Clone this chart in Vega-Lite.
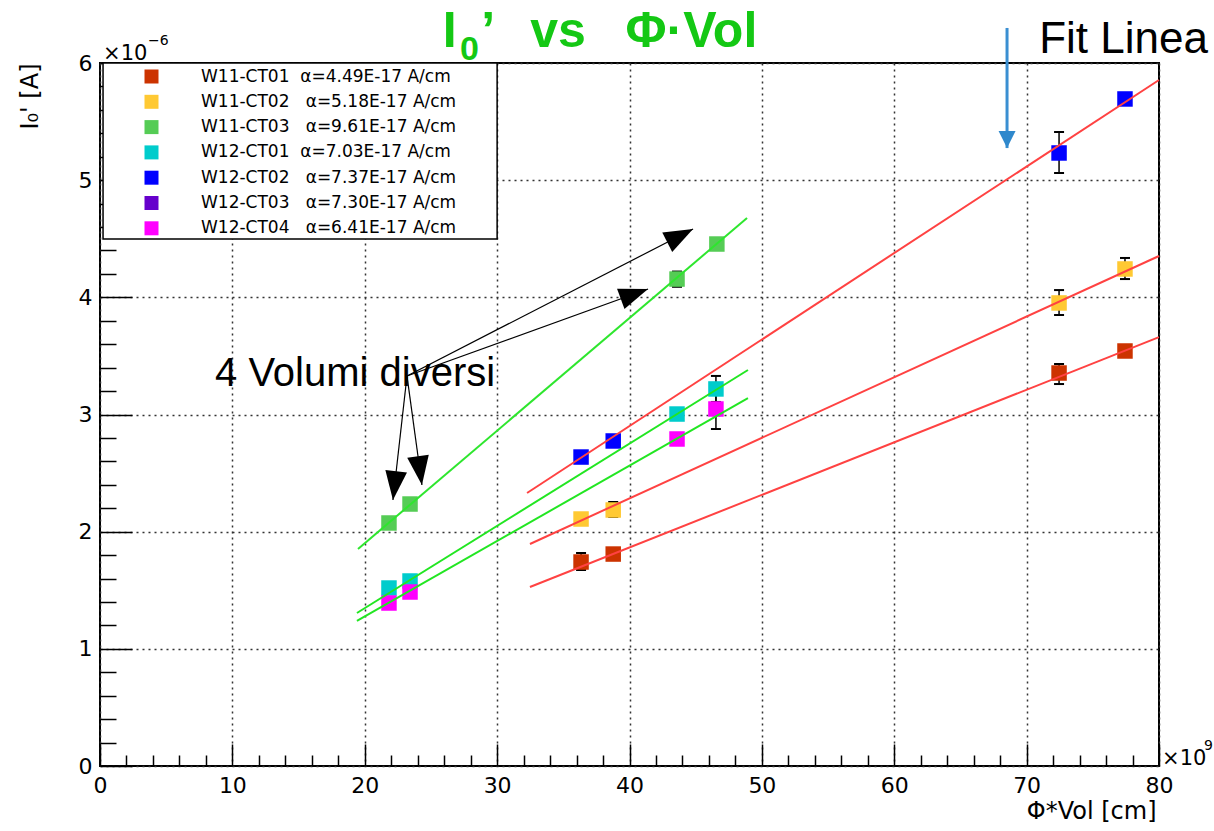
{
  "$schema": "https://vega.github.io/schema/vega-lite/v6.json",
  "width": 1059,
  "height": 703,
  "autosize": {"type": "none"},
  "padding": {"left": 100, "top": 63, "right": 55, "bottom": 65},
  "background": "white",
  "config": {
    "font": "DejaVu Sans",
    "view": {"stroke": "#000", "strokeWidth": 2},
    "axis": {"labelFont": "DejaVu Sans", "titleFont": "DejaVu Sans", "labelColor": "#000", "titleColor": "#000", "tickColor": "#000"}
  },
  "datasets": {
    "points": [
      {"series": "W11-CT01", "x": 36.34, "y": 1.741}, {"series": "W11-CT01", "x": 38.77, "y": 1.809}, {"series": "W11-CT01", "x": 72.45, "y": 3.354}, {"series": "W11-CT01", "x": 77.43, "y": 3.542},
      {"series": "W11-CT02", "x": 36.34, "y": 2.108}, {"series": "W11-CT02", "x": 38.77, "y": 2.185}, {"series": "W11-CT02", "x": 72.45, "y": 3.952}, {"series": "W11-CT02", "x": 77.43, "y": 4.242},
      {"series": "W11-CT03", "x": 21.83, "y": 2.074}, {"series": "W11-CT03", "x": 23.42, "y": 2.236}, {"series": "W11-CT03", "x": 43.59, "y": 4.156}, {"series": "W11-CT03", "x": 46.6, "y": 4.455},
      {"series": "W12-CT01", "x": 21.83, "y": 1.519}, {"series": "W12-CT01", "x": 23.42, "y": 1.579}, {"series": "W12-CT01", "x": 43.59, "y": 3.004}, {"series": "W12-CT01", "x": 46.53, "y": 3.218},
      {"series": "W12-CT02", "x": 36.34, "y": 2.637}, {"series": "W12-CT02", "x": 38.77, "y": 2.774}, {"series": "W12-CT02", "x": 72.45, "y": 5.232}, {"series": "W12-CT02", "x": 77.43, "y": 5.693},
      {"series": "W12-CT04", "x": 21.83, "y": 1.391}, {"series": "W12-CT04", "x": 23.42, "y": 1.485}, {"series": "W12-CT04", "x": 43.59, "y": 2.791}, {"series": "W12-CT04", "x": 46.53, "y": 3.047}
    ],
    "errors": [
      {"series": "W11-CT01", "x": 36.34, "ylo": 1.673, "yhi": 1.818},
      {"series": "W11-CT01", "x": 72.45, "ylo": 3.26, "yhi": 3.431},
      {"series": "W11-CT02", "x": 38.77, "ylo": 2.125, "yhi": 2.253},
      {"series": "W11-CT02", "x": 72.45, "ylo": 3.849, "yhi": 4.062},
      {"series": "W11-CT02", "x": 77.43, "ylo": 4.156, "yhi": 4.336},
      {"series": "W11-CT03", "x": 43.59, "ylo": 4.09, "yhi": 4.22},
      {"series": "W12-CT01", "x": 21.83, "ylo": 1.476, "yhi": 1.562},
      {"series": "W12-CT01", "x": 46.53, "ylo": 3.107, "yhi": 3.329},
      {"series": "W12-CT04", "x": 46.53, "ylo": 2.876, "yhi": 3.218},
      {"series": "W12-CT02", "x": 72.45, "ylo": 5.061, "yhi": 5.411}
    ],
    "fits": [
      {"series": "W11-CT01", "x": 32.48, "y": 1.528}, {"series": "W11-CT01", "x": 80, "y": 3.66},
      {"series": "W11-CT02", "x": 32.48, "y": 1.895}, {"series": "W11-CT02", "x": 80, "y": 4.353},
      {"series": "W12-CT02", "x": 32.26, "y": 2.33}, {"series": "W12-CT02", "x": 80, "y": 5.855},
      {"series": "W11-CT03", "x": 19.49, "y": 1.852}, {"series": "W11-CT03", "x": 48.88, "y": 4.677},
      {"series": "W12-CT01", "x": 19.41, "y": 1.306}, {"series": "W12-CT01", "x": 48.95, "y": 3.38},
      {"series": "W12-CT04", "x": 19.41, "y": 1.238}, {"series": "W12-CT04", "x": 48.95, "y": 3.14}
    ],
    "arrows": [
      {"arrow": "a1", "x": 23.19, "y": 3.329}, {"arrow": "a1", "x": 44.8, "y": 4.583},
      {"arrow": "a2", "x": 23.19, "y": 3.329}, {"arrow": "a2", "x": 41.4, "y": 4.071},
      {"arrow": "a3", "x": 23.19, "y": 3.329}, {"arrow": "a3", "x": 22.13, "y": 2.27},
      {"arrow": "a4", "x": 23.19, "y": 3.329}, {"arrow": "a4", "x": 24.32, "y": 2.398}
    ],
    "blue": [
      {"arrow": "fit", "x": 68.52, "y": 6.299}, {"arrow": "fit", "x": 68.52, "y": 5.274}
    ],
    "heads": [
      {"arrow": "a1", "x": 44.8, "y": 4.583},
      {"arrow": "a2", "x": 41.4, "y": 4.071},
      {"arrow": "a3", "x": 22.13, "y": 2.27},
      {"arrow": "a4", "x": 24.32, "y": 2.398},
      {"arrow": "fit", "x": 68.52, "y": 5.274}
    ]
  },
  "layer": [
    {
      "data": {"values": [{}]},
      "mark": {"type": "rect", "fill": "#fff", "stroke": "#000", "strokeWidth": 1.5},
      "encoding": {
        "x": {"datum": 0.23, "type": "quantitative", "scale": {"domain": [0, 80], "nice": false, "zero": false}, "axis": null},
        "x2": {"datum": 30.0},
        "y": {"datum": 6, "type": "quantitative", "scale": {"domain": [0, 6], "nice": false}, "axis": null},
        "y2": {"datum": 4.497}
      }
    },
    {
      "data": {"name": "errors"},
      "mark": {"type": "rule", "color": "#000", "strokeWidth": 1.5},
      "encoding": {
        "x": {"field": "x", "type": "quantitative", "scale": {"domain": [0, 80], "nice": false, "zero": false}, "axis": null},
        "y": {"field": "ylo", "type": "quantitative", "scale": {"domain": [0, 6], "nice": false}, "axis": null},
        "y2": {"field": "yhi"}
      }
    },
    {
      "data": {"name": "errors"},
      "mark": {"type": "tick", "orient": "horizontal", "color": "#000", "size": 10, "thickness": 2, "opacity": 1},
      "encoding": {
        "x": {"field": "x", "type": "quantitative", "scale": {"domain": [0, 80], "nice": false, "zero": false}, "axis": null},
        "y": {"field": "ylo", "type": "quantitative", "scale": {"domain": [0, 6], "nice": false}, "axis": null}
      }
    },
    {
      "data": {"name": "errors"},
      "mark": {"type": "tick", "orient": "horizontal", "color": "#000", "size": 10, "thickness": 2, "opacity": 1},
      "encoding": {
        "x": {"field": "x", "type": "quantitative", "scale": {"domain": [0, 80], "nice": false, "zero": false}, "axis": null},
        "y": {"field": "yhi", "type": "quantitative", "scale": {"domain": [0, 6], "nice": false}, "axis": null}
      }
    },
    {
      "data": {"name": "points"},
      "mark": {"type": "point", "shape": "square", "filled": true, "size": 240, "opacity": 1, "strokeWidth": 0},
      "encoding": {
        "x": {
          "field": "x", "type": "quantitative",
          "scale": {"domain": [0, 80], "nice": false, "zero": false},
          "axis": {
            "orient": "bottom", "values": [0, 10, 20, 30, 40, 50, 60, 70, 80], "format": "d",
            "tickSize": -22, "tickWidth": 1.5, "labelPadding": 31, "labelFontSize": 22, "labelFlush": false, "labelOverlap": false,
            "grid": true, "gridDash": [2, 4], "gridColor": "#333", "gridWidth": 1.5, "domain": false,
            "title": "Φ*Vol [cm]", "titleFontSize": 24, "titleFontWeight": "normal", "titleAlign": "right", "titleBaseline": "alphabetic", "titleX": 1056, "titleY": 52
          }
        },
        "y": {
          "field": "y", "type": "quantitative",
          "scale": {"domain": [0, 6], "nice": false},
          "axis": {
            "orient": "left", "values": [0, 1, 2, 3, 4, 5, 6], "format": "d",
            "tickSize": -32, "tickWidth": 1.5, "labelPadding": 40, "labelFontSize": 22, "labelFlush": false, "labelOverlap": false,
            "grid": true, "gridDash": [2, 4], "gridColor": "#333", "gridWidth": 1.5, "domain": false,
            "title": "I₀' [A]", "titleFontSize": 24, "titleFontWeight": "normal", "titleAngle": -90, "titleAlign": "right", "titleBaseline": "alphabetic", "titleX": -63, "titleY": 0
          }
        },
        "color": {
          "field": "series", "type": "nominal",
          "scale": {
            "domain": ["W11-CT01", "W11-CT02", "W11-CT03", "W12-CT01", "W12-CT02", "W12-CT03", "W12-CT04"],
            "range": ["#cc3300", "#ffc933", "#55cc55", "#00cccc", "#0000ff", "#6600cc", "#ff00ff"]
          },
          "legend": {
            "orient": "none", "legendX": 3, "legendY": 1, "title": null,
            "symbolType": "square", "symbolSize": 196, "symbolStrokeWidth": 0, "symbolOpacity": 1,
            "symbolOffset": 36, "labelOffset": 41, "labelFontSize": 17, "labelFont": "DejaVu Sans", "labelColor": "#000", "labelLimit": 500,
            "rowPadding": 7.3, "padding": 4,
            "labelExpr": "{'W11-CT01':'W11-CT01\u00a0\u00a0α=4.49E-17 A/cm','W11-CT02':'W11-CT02\u00a0\u00a0\u00a0α=5.18E-17 A/cm','W11-CT03':'W11-CT03\u00a0\u00a0\u00a0α=9.61E-17 A/cm','W12-CT01':'W12-CT01\u00a0\u00a0α=7.03E-17 A/cm','W12-CT02':'W12-CT02\u00a0\u00a0\u00a0α=7.37E-17 A/cm','W12-CT03':'W12-CT03\u00a0\u00a0\u00a0α=7.30E-17 A/cm','W12-CT04':'W12-CT04\u00a0\u00a0\u00a0α=6.41E-17 A/cm'}[datum.label]"
          }
        }
      }
    },
    {
      "data": {"name": "fits"},
      "mark": {"type": "line"},
      "encoding": {
        "x": {
          "field": "x", "type": "quantitative",
          "scale": {"domain": [0, 80], "nice": false, "zero": false},
          "axis": {"orient": "bottom", "values": [2, 4, 6, 8, 12, 14, 16, 18, 22, 24, 26, 28, 32, 34, 36, 38, 42, 44, 46, 48, 52, 54, 56, 58, 62, 64, 66, 68, 72, 74, 76, 78], "tickSize": -11, "tickWidth": 1.5, "labels": false, "grid": false, "domain": false, "title": null}
        },
        "y": {
          "field": "y", "type": "quantitative",
          "scale": {"domain": [0, 6], "nice": false},
          "axis": {"orient": "left", "values": [0.2, 0.4, 0.6, 0.8, 1.2, 1.4, 1.6, 1.8, 2.2, 2.4, 2.6, 2.8, 3.2, 3.4, 3.6, 3.8, 4.2, 4.4, 4.6, 4.8, 5.2, 5.4, 5.6, 5.8], "tickSize": -16, "tickWidth": 1.5, "labels": false, "grid": false, "domain": false, "title": null}
        },
        "stroke": {
          "field": "series", "type": "nominal",
          "scale": {"domain": ["W11-CT01", "W11-CT02", "W12-CT02", "W11-CT03", "W12-CT01", "W12-CT04"], "range": ["#ff4242", "#ff4242", "#ff4242", "#2ee62e", "#22e622", "#22e622"]},
          "legend": null
        },
        "strokeWidth": {
          "field": "series", "type": "nominal",
          "scale": {"domain": ["W11-CT01", "W11-CT02", "W12-CT02", "W11-CT03", "W12-CT01", "W12-CT04"], "range": [2, 2, 2, 2, 2.6, 2.6]},
          "legend": null
        }
      }
    },
    {
      "data": {"name": "arrows"},
      "mark": {"type": "line", "color": "#000", "strokeWidth": 1.2},
      "encoding": {
        "x": {"field": "x", "type": "quantitative", "scale": {"domain": [0, 80], "nice": false, "zero": false}, "axis": null},
        "y": {"field": "y", "type": "quantitative", "scale": {"domain": [0, 6], "nice": false}, "axis": null},
        "detail": {"field": "arrow"}
      }
    },
    {
      "data": {"name": "blue"},
      "mark": {"type": "line", "color": "#3a8fd2", "strokeWidth": 3},
      "encoding": {
        "x": {"field": "x", "type": "quantitative", "scale": {"domain": [0, 80], "nice": false, "zero": false}, "axis": null},
        "y": {"field": "y", "type": "quantitative", "scale": {"domain": [0, 6], "nice": false}, "axis": null}
      }
    },
    {
      "data": {"name": "heads"},
      "transform": [{"filter": "datum.arrow == 'a1'"}],
      "mark": {"type": "point", "shape": "M0,0L0.75,2L-0.75,2Z", "size": 841, "angle": 62.8, "filled": true, "color": "#000", "opacity": 1, "strokeWidth": 0},
      "encoding": {
        "x": {"field": "x", "type": "quantitative", "scale": {"domain": [0, 80], "nice": false, "zero": false}, "axis": null},
        "y": {"field": "y", "type": "quantitative", "scale": {"domain": [0, 6], "nice": false}, "axis": null}
      }
    },
    {
      "data": {"name": "heads"},
      "transform": [{"filter": "datum.arrow == 'a2'"}],
      "mark": {"type": "point", "shape": "M0,0L0.75,2L-0.75,2Z", "size": 841, "angle": 70.1, "filled": true, "color": "#000", "opacity": 1, "strokeWidth": 0},
      "encoding": {
        "x": {"field": "x", "type": "quantitative", "scale": {"domain": [0, 80], "nice": false, "zero": false}, "axis": null},
        "y": {"field": "y", "type": "quantitative", "scale": {"domain": [0, 6], "nice": false}, "axis": null}
      }
    },
    {
      "data": {"name": "heads"},
      "transform": [{"filter": "datum.arrow == 'a3'"}],
      "mark": {"type": "point", "shape": "M0,0L0.75,2L-0.75,2Z", "size": 841, "angle": 186.4, "filled": true, "color": "#000", "opacity": 1, "strokeWidth": 0},
      "encoding": {
        "x": {"field": "x", "type": "quantitative", "scale": {"domain": [0, 80], "nice": false, "zero": false}, "axis": null},
        "y": {"field": "y", "type": "quantitative", "scale": {"domain": [0, 6], "nice": false}, "axis": null}
      }
    },
    {
      "data": {"name": "heads"},
      "transform": [{"filter": "datum.arrow == 'a4'"}],
      "mark": {"type": "point", "shape": "M0,0L0.75,2L-0.75,2Z", "size": 841, "angle": 172.2, "filled": true, "color": "#000", "opacity": 1, "strokeWidth": 0},
      "encoding": {
        "x": {"field": "x", "type": "quantitative", "scale": {"domain": [0, 80], "nice": false, "zero": false}, "axis": null},
        "y": {"field": "y", "type": "quantitative", "scale": {"domain": [0, 6], "nice": false}, "axis": null}
      }
    },
    {
      "data": {"name": "heads"},
      "transform": [{"filter": "datum.arrow == 'fit'"}],
      "mark": {"type": "point", "shape": "M0,0L1,2L-1,2Z", "size": 289, "angle": 180, "filled": true, "color": "#2f88cc", "opacity": 1, "strokeWidth": 0},
      "encoding": {
        "x": {"field": "x", "type": "quantitative", "scale": {"domain": [0, 80], "nice": false, "zero": false}, "axis": null},
        "y": {"field": "y", "type": "quantitative", "scale": {"domain": [0, 6], "nice": false}, "axis": null}
      }
    },
    {
      "data": {"values": [{}]},
      "mark": {"type": "text", "text": "4 Volumi diversi", "font": "Liberation Sans", "fontSize": 40, "align": "left", "baseline": "alphabetic", "color": "#000"},
      "encoding": {
        "x": {"datum": 8.69, "type": "quantitative", "scale": {"domain": [0, 80], "nice": false, "zero": false}, "axis": null},
        "y": {"datum": 3.243, "type": "quantitative", "scale": {"domain": [0, 6], "nice": false}, "axis": null}
      }
    },
    {
      "data": {"values": [{}]},
      "mark": {"type": "text", "text": "Fit Linea", "font": "Liberation Sans", "fontSize": 44, "align": "left", "baseline": "alphabetic", "color": "#000"},
      "encoding": {
        "x": {"datum": 70.95, "type": "quantitative", "scale": {"domain": [0, 80], "nice": false, "zero": false}, "axis": null},
        "y": {"datum": 6.085, "type": "quantitative", "scale": {"domain": [0, 6], "nice": false}, "axis": null}
      }
    },
    {
      "data": {"values": [{}]},
      "mark": {"type": "text", "text": "I", "font": "Liberation Sans", "fontWeight": "bold", "fontSize": 50, "align": "left", "baseline": "alphabetic", "color": "#14c814"},
      "encoding": {
        "x": {"datum": 25.9, "type": "quantitative", "scale": {"domain": [0, 80], "nice": false, "zero": false}, "axis": null},
        "y": {"datum": 6.136, "type": "quantitative", "scale": {"domain": [0, 6], "nice": false}, "axis": null}
      }
    },
    {
      "data": {"values": [{}]},
      "mark": {"type": "text", "text": "0", "font": "Liberation Sans", "fontWeight": "bold", "fontSize": 34, "align": "left", "baseline": "alphabetic", "color": "#14c814"},
      "encoding": {
        "x": {"datum": 27.2, "type": "quantitative", "scale": {"domain": [0, 80], "nice": false, "zero": false}, "axis": null},
        "y": {"datum": 6.025, "type": "quantitative", "scale": {"domain": [0, 6], "nice": false}, "axis": null}
      }
    },
    {
      "data": {"values": [{}]},
      "mark": {"type": "text", "text": "’", "font": "Liberation Sans", "fontWeight": "bold", "fontSize": 50, "align": "left", "baseline": "alphabetic", "color": "#14c814"},
      "encoding": {
        "x": {"datum": 28.8, "type": "quantitative", "scale": {"domain": [0, 80], "nice": false, "zero": false}, "axis": null},
        "y": {"datum": 6.136, "type": "quantitative", "scale": {"domain": [0, 6], "nice": false}, "axis": null}
      }
    },
    {
      "data": {"values": [{}]},
      "mark": {"type": "text", "text": "vs", "font": "Liberation Sans", "fontWeight": "bold", "fontSize": 50, "align": "left", "baseline": "alphabetic", "color": "#14c814"},
      "encoding": {
        "x": {"datum": 32.5, "type": "quantitative", "scale": {"domain": [0, 80], "nice": false, "zero": false}, "axis": null},
        "y": {"datum": 6.136, "type": "quantitative", "scale": {"domain": [0, 6], "nice": false}, "axis": null}
      }
    },
    {
      "data": {"values": [{}]},
      "mark": {"type": "text", "text": "Φ·Vol", "font": "Liberation Sans", "fontWeight": "bold", "fontSize": 50, "align": "left", "baseline": "alphabetic", "color": "#14c814"},
      "encoding": {
        "x": {"datum": 39.7, "type": "quantitative", "scale": {"domain": [0, 80], "nice": false, "zero": false}, "axis": null},
        "y": {"datum": 6.136, "type": "quantitative", "scale": {"domain": [0, 6], "nice": false}, "axis": null}
      }
    },
    {
      "data": {"values": [{}]},
      "mark": {"type": "text", "text": "×10", "font": "DejaVu Sans", "fontSize": 21, "align": "left", "baseline": "alphabetic", "color": "#000"},
      "encoding": {
        "x": {"datum": 0.23, "type": "quantitative", "scale": {"domain": [0, 80], "nice": false, "zero": false}, "axis": null},
        "y": {"datum": 6.025, "type": "quantitative", "scale": {"domain": [0, 6], "nice": false}, "axis": null}
      }
    },
    {
      "data": {"values": [{}]},
      "mark": {"type": "text", "text": "−6", "font": "DejaVu Sans", "fontSize": 14, "align": "left", "baseline": "alphabetic", "color": "#000"},
      "encoding": {
        "x": {"datum": 3.63, "type": "quantitative", "scale": {"domain": [0, 80], "nice": false, "zero": false}, "axis": null},
        "y": {"datum": 6.153, "type": "quantitative", "scale": {"domain": [0, 6], "nice": false}, "axis": null}
      }
    },
    {
      "data": {"values": [{}]},
      "mark": {"type": "text", "text": "×10", "font": "DejaVu Sans", "fontSize": 21, "align": "left", "baseline": "alphabetic", "color": "#000"},
      "encoding": {
        "x": {"datum": 80.23, "type": "quantitative", "scale": {"domain": [0, 80], "nice": false, "zero": false}, "axis": null},
        "y": {"datum": 0.0085, "type": "quantitative", "scale": {"domain": [0, 6], "nice": false}, "axis": null}
      }
    },
    {
      "data": {"values": [{}]},
      "mark": {"type": "text", "text": "9", "font": "DejaVu Sans", "fontSize": 14, "align": "left", "baseline": "alphabetic", "color": "#000"},
      "encoding": {
        "x": {"datum": 83.4, "type": "quantitative", "scale": {"domain": [0, 80], "nice": false, "zero": false}, "axis": null},
        "y": {"datum": 0.137, "type": "quantitative", "scale": {"domain": [0, 6], "nice": false}, "axis": null}
      }
    }
  ],
  "resolve": {"axis": {"x": "independent", "y": "independent"}}
}
